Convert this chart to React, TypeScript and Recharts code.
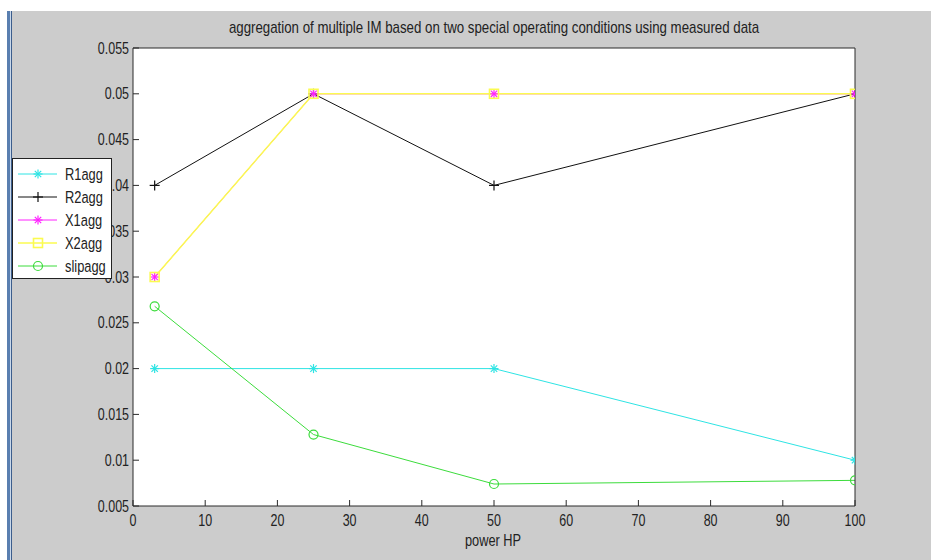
import React from 'react';
import { LineChart, Line, XAxis, YAxis, CartesianGrid } from 'recharts';

const powerHP = [3, 25, 50, 100];
const R1agg = [0.02, 0.02, 0.02, 0.01];
const R2agg = [0.04, 0.05, 0.04, 0.05];
const X1agg = [0.03, 0.05, 0.05, 0.05];
const X2agg = [0.03, 0.05, 0.05, 0.05];
const slipagg = [0.0268, 0.0128, 0.0074, 0.0078];

const xTicks = [0, 10, 20, 30, 40, 50, 60, 70, 80, 90, 100];
const yTicks = [0.005, 0.01, 0.015, 0.02, 0.025, 0.03, 0.035, 0.04, 0.045, 0.05, 0.055];
const yTickLabels = ['0.005', '0.01', '0.015', '0.02', '0.025', '0.03', '0.035', '0.04', '0.045', '0.05', '0.055'];

const seriesNames = ['R1agg', 'R2agg', 'X1agg', 'X2agg', 'slipagg'];
const seriesValues = [R1agg, R2agg, X1agg, X2agg, slipagg];
const seriesColors = ['#2ee4e4', '#111111', '#ff22ff', '#fbfb50', '#3cdc3c'];
const seriesWidths = [1, 1, 1, 1.5, 1];
const seriesMarkers = ['star', 'plus', 'star', 'square', 'circle'];

const titleText = 'aggregation of multiple IM based on two special operating conditions using measured data';
const xLabelText = 'power HP';

const data = powerHP.map((x, i) => {
  const row: any = { x };
  seriesNames.forEach((n, k) => { row[n] = seriesValues[k][i]; });
  return row;
});

const FONT = "'Liberation Sans', Arial, sans-serif";
const SX = 0.78;

function Marker({ kind, cx, cy, color }: any) {
  if (cx == null || cy == null) return null;
  if (kind === 'star') {
    const r = 4.5, d = 3.2;
    return (
      <g stroke={color} strokeWidth={1.2} fill="none">
        <line x1={cx - r} y1={cy} x2={cx + r} y2={cy} />
        <line x1={cx} y1={cy - r} x2={cx} y2={cy + r} />
        <line x1={cx - d} y1={cy - d} x2={cx + d} y2={cy + d} />
        <line x1={cx - d} y1={cy + d} x2={cx + d} y2={cy - d} />
      </g>
    );
  }
  if (kind === 'plus') {
    const r = 5;
    return (
      <g stroke={color} strokeWidth={1.2} fill="none">
        <line x1={cx - r} y1={cy} x2={cx + r} y2={cy} />
        <line x1={cx} y1={cy - r} x2={cx} y2={cy + r} />
      </g>
    );
  }
  if (kind === 'square') {
    return <rect x={cx - 4.5} y={cy - 4.5} width={9} height={9} stroke={color} strokeWidth={1.6} fill="none" />;
  }
  return <circle cx={cx} cy={cy} r={4.5} stroke={color} strokeWidth={1.2} fill="none" />;
}

const YTick = (p: any) => {
  const idx = yTicks.indexOf(p.payload.value);
  const label = idx >= 0 ? yTickLabels[idx] : String(p.payload.value);
  return (
    <text x={0} y={0} transform={`translate(${p.x},${p.y}) scale(${SX},1)`} textAnchor="end" dominantBaseline="central" fontSize={16} fill="#222" fontFamily={FONT}>
      {label}
    </text>
  );
};

const XTick = (p: any) => (
  <text x={0} y={0} transform={`translate(${p.x},${p.y}) scale(${SX},1)`} textAnchor="middle" dominantBaseline="central" fontSize={16} fill="#222" fontFamily={FONT}>
    {String(p.payload.value)}
  </text>
);

export default function App() {
  const W = 931, H = 560;
  const axisColor = '#2a2a2a';
  return (
    <div style={{ position: 'fixed', left: 0, top: 0, width: W, height: H, background: '#ffffff', overflow: 'hidden' }}>
      <div style={{ position: 'absolute', left: 12, top: 11, right: 0, bottom: 0, background: '#cccccc' }} />
      <div style={{ position: 'absolute', left: 7, top: 11, width: 3, bottom: 0, background: '#5a7fb0' }} />
      <div style={{ position: 'absolute', left: 10, top: 11, width: 1, bottom: 0, background: '#c9d8ea' }} />
      <div style={{ position: 'absolute', left: 11, top: 11, width: 1, bottom: 0, background: '#3c5d8c' }} />
      <div style={{ position: 'absolute', left: 0, top: 0 }}>
        <LineChart width={W} height={H} data={data} margin={{ left: 73, right: 16, top: 18, bottom: 24 }}>
          <CartesianGrid xAxisId="b" yAxisId="l" horizontal={false} vertical={false} fill="#ffffff" />
          <XAxis xAxisId="b" dataKey="x" type="number" domain={[0, 100]} ticks={xTicks} interval={0} height={30}
            axisLine={{ stroke: axisColor, strokeWidth: 1 }} tickLine={{ stroke: axisColor }} tickSize={-6} tickMargin={20} tick={<XTick />} allowDataOverflow />
          <XAxis xAxisId="t" orientation="top" type="number" domain={[0, 100]} ticks={xTicks} interval={0} height={30}
            axisLine={{ stroke: axisColor, strokeWidth: 1 }} tickLine={{ stroke: axisColor }} tickSize={-6} tick={false} allowDataOverflow />
          <YAxis yAxisId="l" type="number" domain={[0.005, 0.055]} ticks={yTicks} interval={0} width={60}
            axisLine={{ stroke: axisColor, strokeWidth: 1 }} tickLine={{ stroke: axisColor }} tickSize={-6} tickMargin={10} tick={<YTick />} allowDataOverflow />
          <YAxis yAxisId="r" orientation="right" type="number" domain={[0.005, 0.055]} ticks={yTicks} interval={0} width={60}
            axisLine={{ stroke: axisColor, strokeWidth: 1 }} tickLine={{ stroke: axisColor }} tickSize={-6} tick={false} allowDataOverflow />
          {seriesNames.map((name, k) => (
            <Line key={name} xAxisId="b" yAxisId="l" dataKey={name} type="linear" stroke={seriesColors[k]} strokeWidth={seriesWidths[k]}
              isAnimationActive={false}
              dot={(p: any) => <Marker key={`${name}-${p.index}`} kind={seriesMarkers[k]} cx={p.cx} cy={p.cy} color={seriesColors[k]} />}
              activeDot={false} />
          ))}
        </LineChart>
      </div>
      <svg width={W} height={H} style={{ position: 'absolute', left: 0, top: 0, pointerEvents: 'none' }}>
        <text x={0} y={0} transform={`translate(494,33) scale(0.83,1)`} textAnchor="middle" fontSize={16} fill="#222" fontFamily={FONT}>{titleText}</text>
        <text x={0} y={0} transform={`translate(493,546) scale(0.8,1)`} textAnchor="middle" fontSize={16} fill="#222" fontFamily={FONT}>{xLabelText}</text>
        <rect x={12.5} y={158.5} width={99} height={120} fill="#ffffff" stroke="#222" strokeWidth={1} />
        {seriesNames.map((name, k) => {
          const y = 174 + k * 23;
          return (
            <g key={name}>
              <line x1={18} y1={y} x2={57} y2={y} stroke={seriesColors[k]} strokeWidth={seriesWidths[k]} />
              <Marker kind={seriesMarkers[k]} cx={38} cy={y} color={seriesColors[k]} />
              <text x={0} y={0} transform={`translate(65,${y}) scale(${SX},1)`} dominantBaseline="central" fontSize={16.5} fill="#222" fontFamily={FONT}>{name}</text>
            </g>
          );
        })}
      </svg>
    </div>
  );
}
